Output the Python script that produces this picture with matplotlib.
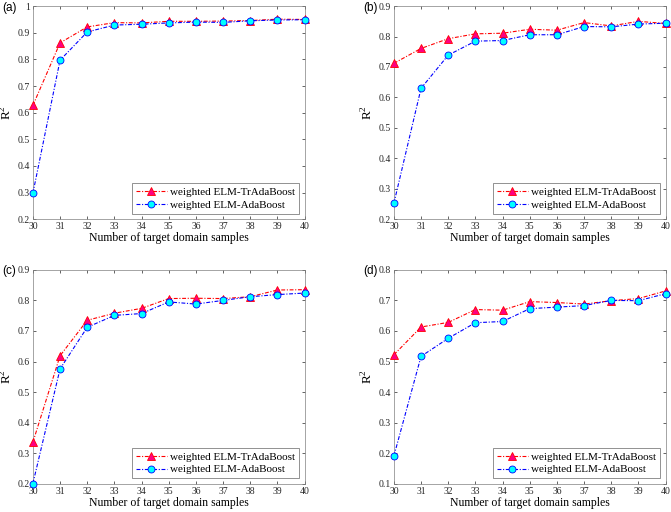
import numpy as np
import matplotlib.pyplot as plt

plt.rcParams['font.family'] = ['Liberation Serif', 'DejaVu Serif']
plt.rcParams['mathtext.fontset'] = 'custom'
plt.rcParams['mathtext.rm'] = 'Liberation Serif'

x = np.arange(30, 41)

# (a)
tr_a = [0.627, 0.862, 0.922, 0.938, 0.937, 0.943, 0.943, 0.944, 0.946, 0.951, 0.950]
ada_a = [0.297, 0.797, 0.903, 0.929, 0.932, 0.937, 0.940, 0.939, 0.945, 0.948, 0.949]
# (b)
tr_b = [0.712, 0.761, 0.793, 0.809, 0.811, 0.824, 0.821, 0.846, 0.835, 0.850, 0.843]
ada_b = [0.252, 0.630, 0.739, 0.785, 0.787, 0.806, 0.806, 0.833, 0.832, 0.841, 0.844]
# (c)
tr_c = [0.336, 0.619, 0.735, 0.758, 0.774, 0.806, 0.807, 0.806, 0.812, 0.834, 0.835]
ada_c = [0.201, 0.576, 0.712, 0.751, 0.757, 0.795, 0.788, 0.800, 0.812, 0.819, 0.824]
# (d)
tr_d = [0.522, 0.613, 0.628, 0.670, 0.668, 0.696, 0.693, 0.688, 0.699, 0.706, 0.731]
ada_d = [0.191, 0.517, 0.576, 0.627, 0.631, 0.673, 0.678, 0.683, 0.700, 0.699, 0.722]

panels = [
    ('(a)', tr_a, ada_a, (0.2, 1.0), [0.049, 0.572, 0.405, 0.416]),
    ('(b)', tr_b, ada_b, (0.2, 0.9), [0.587, 0.572, 0.405, 0.416]),
    ('(c)', tr_c, ada_c, (0.2, 0.9), [0.049, 0.055, 0.405, 0.418]),
    ('(d)', tr_d, ada_d, (0.1, 0.8), [0.587, 0.055, 0.405, 0.418]),
]

fig = plt.figure(figsize=(6.71, 5.12), dpi=100)
dash = (0, (3.5, 1.5, 1, 1.5))

for label, tr, ada, ylim, pos in panels:
    ax = fig.add_axes(pos)
    ax.plot(x, tr, color='red', ls=dash, lw=0.8, marker='^', ms=5.5,
            mfc='#ff0080', mec='red', mew=0.6, clip_on=False, zorder=3,
            label='weighted ELM-TrAdaBoost')
    ax.plot(x, ada, color='blue', ls=dash, lw=0.8, marker='o', ms=5,
            mfc='cyan', mec='blue', mew=0.6, clip_on=False, zorder=3,
            label='weighted ELM-AdaBoost')
    ax.set_xlim(30, 40)
    ax.set_ylim(*ylim)
    ax.set_xticks(x)
    yt = np.round(np.arange(ylim[0], ylim[1] + 0.001, 0.1), 1)
    ax.set_yticks(yt)
    ax.set_yticklabels([f'{v:g}' for v in yt])
    ax.tick_params(direction='in', length=2.5, width=0.5, labelsize=7,
                   top=True, right=True, colors='#262626', pad=2)
    for s in ax.spines.values():
        s.set_linewidth(0.5)
        s.set_color('#808080')
    ax.set_xlabel('Number of target domain samples', fontsize=8.5, labelpad=1)
    ax.set_ylabel('R$^2$', fontsize=9.5, labelpad=2)
    leg = ax.legend(loc='lower right', fontsize=8, frameon=True, fancybox=False,
                    edgecolor='#404040', borderpad=0.35, labelspacing=0.25,
                    handlelength=2.8, handletextpad=0.3, borderaxespad=0.5)
    leg.get_frame().set_linewidth(0.5)
    fig.text(pos[0] - 0.046, pos[1] + pos[3] - 0.003, label, fontsize=8.5,
             family='Liberation Sans', va='center', ha='left')

fig.savefig('out.png', dpi=100)
